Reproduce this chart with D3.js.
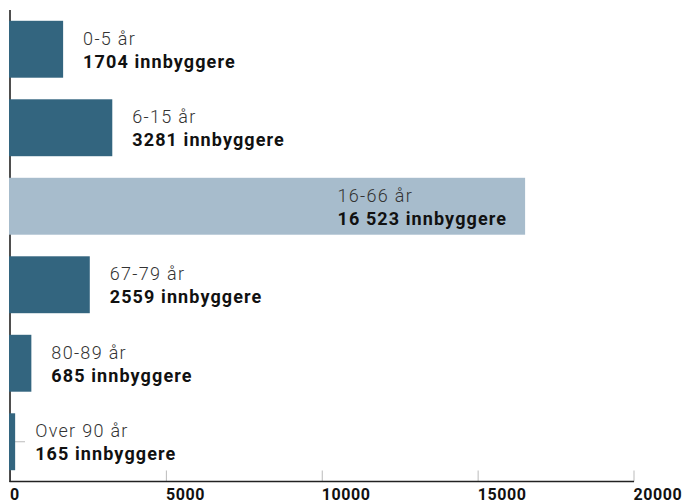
<!DOCTYPE html>
<html>
<head>
<meta charset="utf-8">
<script src="https://cdn.jsdelivr.net/npm/d3@7"></script>
<style>
  body { margin: 0; background: #fff; }
  text { font-family: Roboto, "DejaVu Sans", sans-serif; }
</style>
</head>
<body>
<div id="main"></div>
<script>
// data
var groups = ["0-5 år", "6-15 år", "16-66 år", "67-79 år", "80-89 år", "Over 90 år"];
var residents = [1704, 3281, 16523, 2559, 685, 165];
var residentLabels = ["1704", "3281", "16 523", "2559", "685", "165"];
var highlighted = ["16-66 år"];
var xTicks = [0, 5000, 10000, 15000, 20000];

var width = 684, height = 503;

var svg = d3.select("#main")
  .append("svg")
    .attr("width", width)
    .attr("height", height);

var x = d3.scaleLinear()
  .domain([0, 20000])
  .range([10, 633.5]);

var y = d3.scaleBand()
  .domain(groups)
  .range([10, 481])
  .paddingInner(0.275)
  .paddingOuter(0.1375);

// y axis ticks (mostly hidden behind the bars)
svg.append("g")
  .selectAll("line")
  .data(groups)
  .enter().append("line")
    .attr("x1", 10)
    .attr("x2", 25)
    .attr("y1", function(d) { return y(d) + y.bandwidth() / 2; })
    .attr("y2", function(d) { return y(d) + y.bandwidth() / 2; })
    .attr("stroke", "#bbb")
    .attr("stroke-width", 1);

// x axis: ticks go up into the plot, labels start at the tick
var xAxis = svg.append("g")
  .attr("transform", "translate(0,481.5)")
  .call(d3.axisBottom(x).tickValues(xTicks).tickSize(-11).tickFormat(d3.format("d")));

xAxis.select(".domain").remove();
xAxis.selectAll(".tick line").attr("stroke", "#bbb");
xAxis.selectAll(".tick text")
  .attr("text-anchor", "start")
  .attr("x", -0.5)
  .attr("y", 18)
  .attr("dy", 0)
  .attr("font-size", 16)
  .attr("font-weight", "bold")
  .attr("letter-spacing", 0.6)
  .attr("fill", "#111")
  .style("font-family", "Roboto, sans-serif");

// axis lines
svg.append("line")
  .attr("x1", 10).attr("x2", 10)
  .attr("y1", 10).attr("y2", 482)
  .attr("stroke", "#222").attr("stroke-width", 1.6);
svg.append("line")
  .attr("x1", 9.5).attr("x2", 634)
  .attr("y1", 481.5).attr("y2", 481.5)
  .attr("stroke", "#222").attr("stroke-width", 1.6);

// bars
svg.append("g")
  .selectAll("rect")
  .data(groups)
  .enter().append("rect")
    .attr("x", x(0) - 1)
    .attr("y", function(d) { return y(d); })
    .attr("width", function(d, i) { return x(residents[i]) - x(0) + 1; })
    .attr("height", y.bandwidth())
    .attr("fill", function(d) { return highlighted.indexOf(d) >= 0 ? "#a7bccc" : "#33657f"; });

// labels
var labels = svg.append("g")
  .selectAll("g")
  .data(groups)
  .enter().append("g");

labels.append("text")
  .attr("class", "age")
  .attr("y", function(d) { return y(d) + y.bandwidth() / 2 - 4.5; })
  .attr("font-size", 18)
  .attr("font-weight", 300)
  .attr("letter-spacing", 1.3)
  .attr("fill", "#333")
  .text(function(d) { return d; });

labels.append("text")
  .attr("class", "count")
  .attr("y", function(d) { return y(d) + y.bandwidth() / 2 + 18.5; })
  .attr("font-size", 18)
  .attr("font-weight", "bold")
  .attr("letter-spacing", 1.1)
  .attr("fill", "#111")
  .text(function(d, i) { return residentLabels[i] + " innbyggere"; });

labels.each(function(d, i) {
  var g = d3.select(this);
  var end = x(residents[i]);
  var tx;
  if (highlighted.indexOf(d) >= 0) {
    // text sits inside the long bar, right-aligned as a block
    var w = g.select(".count").node().getComputedTextLength();
    tx = end - 18 - w;
  } else {
    tx = end + 20;
  }
  g.selectAll("text").attr("x", tx);
});
</script>
</body>
</html>
